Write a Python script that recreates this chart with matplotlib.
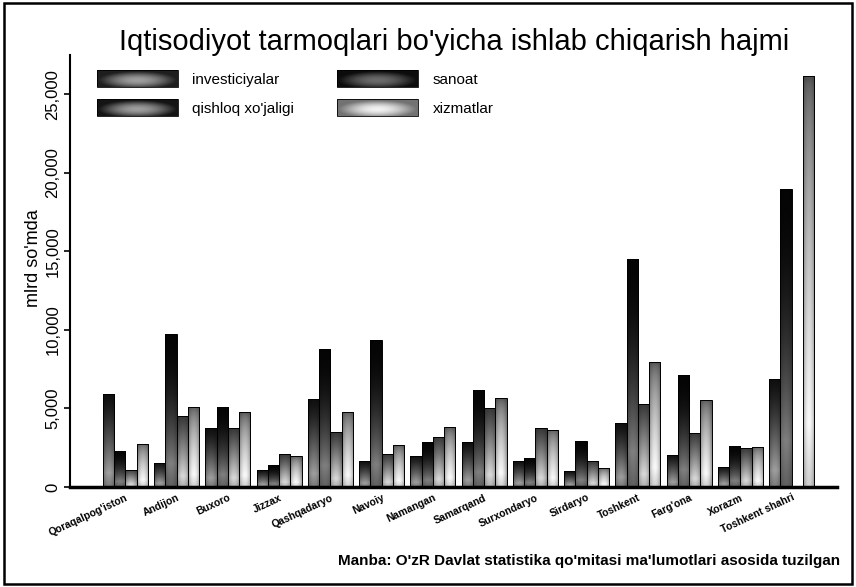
import numpy as np
import matplotlib
matplotlib.use("Agg")
import matplotlib.pyplot as plt
from matplotlib.patches import Rectangle, Patch
from matplotlib.image import BboxImage
from matplotlib.transforms import Bbox, TransformedBbox
from matplotlib.legend_handler import HandlerBase
from matplotlib.ticker import FuncFormatter

# Regions and output volumes (billion so'm)
regions = ["Qoraqalpog'iston", "Andijon", "Buxoro", "Jizzax", "Qashqadaryo",
           "Navoiy", "Namangan", "Samarqand", "Surxondaryo", "Sirdaryo",
           "Toshkent", "Farg'ona", "Xorazm", "Toshkent shahri"]
investiciyalar = [5900, 1550, 3750, 1050, 5600, 1650, 2000, 2850, 1650, 1000, 4050, 2050, 1300, 6850]
sanoat = [2300, 9750, 5100, 1400, 8800, 9350, 2850, 6150, 1850, 2900, 14500, 7100, 2600, 18950]
qishloq = [1100, 4500, 3750, 2100, 3500, 2100, 3200, 5050, 3750, 1650, 5300, 3450, 2500, 0]
xizmatlar = [2750, 5100, 4750, 1950, 4800, 2650, 3800, 5650, 3650, 1200, 7950, 5550, 2550, 26150]

series_names = ["investiciyalar", "sanoat", "qishloq xo'jaligi", "xizmatlar"]
series_vals = [investiciyalar, sanoat, qishloq, xizmatlar]

# grey-level shading per series: (top, lower centre, edge darkening, exponent)
shade = [(0.06, 0.62, 0.30, 1.3),
         (0.02, 0.50, 0.22, 2.0),
         (0.22, 0.85, 0.35, 1.1),
         (0.32, 0.98, 0.40, 0.6)]
legend_shade = [(0.12, 0.62), (0.05, 0.42), (0.08, 0.62), (0.45, 0.95)]

plt.rcParams["font.family"] = ["Liberation Sans", "DejaVu Sans"]


def bar_gradient(params, ny=80, nx=24):
    top, bot, edge, p = params
    t = np.linspace(0, 1, ny)[:, None]          # 0 bottom, 1 top
    x = np.linspace(0, 1, nx)[None, :]
    # lightest a little above the base, dark at the top
    prof = np.where(t < 0.15, 0.75 + 0.25 * t / 0.15,
                    (1 - (t - 0.15) / 0.85) ** p)
    base = top + (bot - top) * prof
    e = np.abs(2 * x - 1) ** 2
    val = base - edge * e * (base - top * 0.5)
    val = np.clip(val, 0, 1)
    return np.dstack([val, val, val])


def legend_gradient(edge_v, centre_v, ny=30, nx=80):
    y = np.linspace(-1, 1, ny)[:, None]
    x = np.linspace(-1, 1, nx)[None, :]
    r2 = np.clip(x ** 2 + ((y - 0.2) / 1.1) ** 2, 0, 1)
    val = edge_v + (centre_v - edge_v) * (1 - r2) ** 1.3
    val = np.clip(val, 0, 1)
    return np.dstack([val, val, val])


class GradientHandler(HandlerBase):
    def __init__(self, img):
        super().__init__()
        self.img = img

    def create_artists(self, legend, orig_handle, xdescent, ydescent,
                       width, height, fontsize, trans):
        bb = TransformedBbox(Bbox.from_bounds(-xdescent, -ydescent, width, height), trans)
        im = BboxImage(bb, interpolation="bilinear", origin="upper")
        im.set_data(self.img)
        rect = Rectangle((-xdescent, -ydescent), width, height, fc="none",
                         ec="black", lw=0.6, transform=trans)
        return [im, rect]


fig = plt.figure(figsize=(8.56, 5.87), dpi=100)
ax = fig.add_axes([0.0818, 0.1704, 0.8962, 0.7356])

n = len(regions)
x = np.arange(n)
w = 0.2195

for k, vals in enumerate(series_vals):
    bars = ax.bar(x + (k - 1.5) * w, vals, width=w, facecolor="none",
                  edgecolor="black", linewidth=0.7, zorder=3)
    grad = bar_gradient(shade[k])
    for rect in bars:
        h = rect.get_height()
        if h <= 0:
            continue
        x0 = rect.get_x()
        im = ax.imshow(grad, extent=[x0, x0 + rect.get_width(), 0, h],
                       origin="lower", aspect="auto", interpolation="bilinear",
                       zorder=2)
        im.set_clip_path(rect)

ax.set_xlim(-1.08, 13.89)
ax.set_ylim(0, 27500)
ax.set_aspect("auto")

ax.set_yticks(np.arange(0, 25001, 5000))
ax.yaxis.set_major_formatter(FuncFormatter(lambda v, _: f"{v:,.0f}"))
for lab in ax.get_yticklabels():
    lab.set_rotation(90)
    lab.set_va("center")
ax.tick_params(axis="y", labelsize=12, length=4, width=1.2, pad=3)
ax.set_ylabel("mlrd so'mda", fontsize=13, labelpad=2)
ax.yaxis.set_label_coords(-0.036, 0.53)

ax.set_xticks(x)
ax.set_xticklabels(regions, rotation=25, ha="right", rotation_mode="anchor",
                   fontsize=7.5, fontweight="bold")
ax.tick_params(axis="x", length=0, pad=4)

for s in ["top", "right"]:
    ax.spines[s].set_visible(False)
ax.spines["left"].set_linewidth(1.5)
ax.spines["bottom"].set_linewidth(2.5)

# legend filled row by row: investiciyalar, sanoat / qishloq xo'jaligi, xizmatlar
order = [0, 2, 1, 3]
handles = [Patch() for _ in order]
hmap = {h: GradientHandler(legend_gradient(*legend_shade[i])) for h, i in zip(handles, order)}
ax.legend(handles, [series_names[i] for i in order], handler_map=hmap, ncol=2,
          loc="upper left", bbox_to_anchor=(0.035, 0.965), frameon=False,
          fontsize=11, handlelength=5.3, handleheight=1.3, handletextpad=0.95,
          columnspacing=2.8, labelspacing=0.8, borderpad=0, borderaxespad=0)

fig.text(0.531, 0.928, "Iqtisodiyot tarmoqlari bo'yicha ishlab chiqarish hajmi",
         ha="center", va="center", fontsize=21)
fig.text(0.982, 0.045, "Manba: O'zR Davlat statistika qo'mitasi ma'lumotlari asosida tuzilgan",
         ha="right", va="center", fontsize=11, fontweight="bold")

fig.patches.append(Rectangle((0.005, 0.005), 0.99, 0.99, transform=fig.transFigure,
                             fill=False, edgecolor="black", linewidth=1.8))

fig.savefig("out.png", dpi=100)
